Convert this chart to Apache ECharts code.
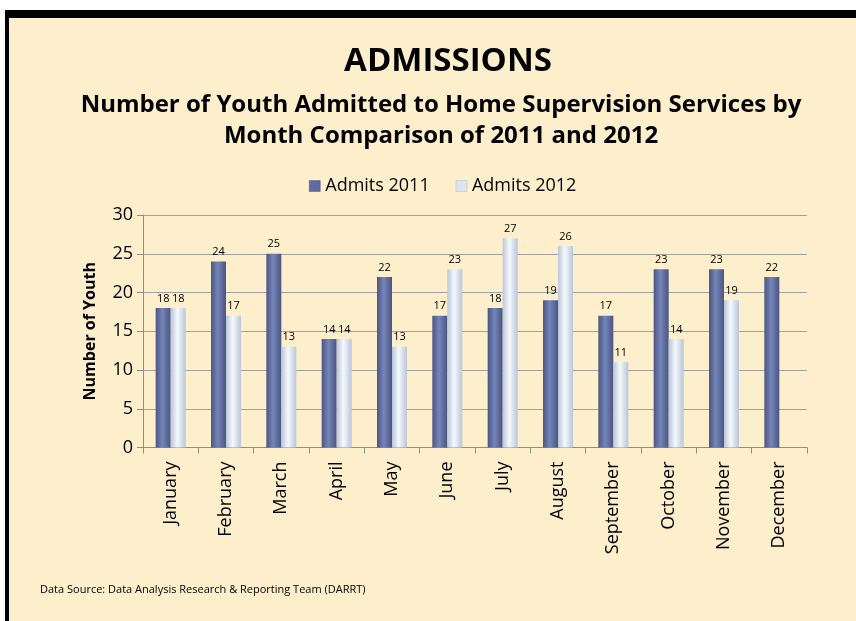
<!DOCTYPE html>
<html>
<head>
<meta charset="utf-8">
<script src="https://cdn.jsdelivr.net/npm/echarts@6/dist/echarts.min.js"></script>
<style>
  html, body { margin: 0; padding: 0; background: #ffffff; }
  #chart { width: 856px; height: 621px; }
</style>
</head>
<body>
<div id="chart"></div>
<script>
// Monthly admissions to Home Supervision Services
const months = ['January', 'February', 'March', 'April', 'May', 'June',
                'July', 'August', 'September', 'October', 'November', 'December'];
const admits2011 = [18, 24, 25, 14, 22, 17, 18, 19, 17, 23, 23, 22];
const admits2012 = [18, 17, 13, 14, 13, 23, 27, 26, 11, 14, 19, null];
const yTicks = [0, 5, 10, 15, 20, 25, 30];

const FONT = 'Open Sans';

function cylinder(edge, mid) {
  return new echarts.graphic.LinearGradient(0, 0, 1, 0, [
    { offset: 0, color: edge },
    { offset: 0.45, color: mid },
    { offset: 1, color: edge }
  ]);
}

function heading(text, x, y, size, weight) {
  return {
    type: 'text', silent: true,
    style: {
      text: text, x: x, y: y,
      textAlign: 'center', textVerticalAlign: 'middle',
      fontFamily: FONT, fontSize: size, fontWeight: weight, fill: '#000'
    }
  };
}

const chart = echarts.init(document.getElementById('chart'), null, { renderer: 'canvas' });

chart.setOption({
  backgroundColor: '#FEEFCC',
  animation: false,
  textStyle: { fontFamily: FONT },
  legend: {
    top: 172, left: 304,
    icon: 'rect',
    itemWidth: 11, itemHeight: 11, itemGap: 26,
    textStyle: { fontFamily: FONT, fontSize: 18, color: '#000' },
    data: [
      { name: 'Admits 2011', itemStyle: { color: '#5E6CA2', borderColor: '#4A5581', borderWidth: 0.5 } },
      { name: 'Admits 2012', itemStyle: { color: '#DDE5F1', borderColor: '#AEB9CC', borderWidth: 0.5 } }
    ]
  },
  grid: { left: 143, right: 49, top: 215, bottom: 173.5, containLabel: false },
  xAxis: {
    type: 'category',
    data: months,
    axisLine: { lineStyle: { color: '#8C8C8C', width: 1 } },
    axisTick: { show: true, length: 6, alignWithLabel: false, lineStyle: { color: '#8C8C8C' } },
    axisLabel: { rotate: 90, margin: 14, fontFamily: FONT, fontSize: 18, color: '#000', interval: 0 }
  },
  yAxis: {
    type: 'value',
    min: yTicks[0], max: yTicks[yTicks.length - 1], interval: 5,
    name: 'Number of Youth',
    nameLocation: 'middle', nameRotate: 90, nameGap: 45,
    nameTextStyle: { fontFamily: FONT, fontSize: 16, fontWeight: 'bold', color: '#000' },
    axisLine: { show: true, lineStyle: { color: '#8C8C8C' } },
    axisTick: { show: true, length: 6, inside: false, lineStyle: { color: '#8C8C8C' } },
    axisLabel: { fontFamily: FONT, fontSize: 18, color: '#000', margin: 10 },
    splitLine: { lineStyle: { color: '#A0A0A0', width: 1 } }
  },
  series: [
    {
      name: 'Admits 2011',
      type: 'bar',
      data: admits2011,
      barWidth: 15,
      barGap: '0%',
      itemStyle: { color: cylinder('#4A5581', '#7585B9') },
      label: { show: true, position: 'top', distance: 4, fontFamily: FONT, fontSize: 11, color: '#000' }
    },
    {
      name: 'Admits 2012',
      type: 'bar',
      data: admits2012,
      barWidth: 15,
      itemStyle: { color: cylinder('#B9C5D8', '#F5F9FE') },
      label: { show: true, position: 'top', distance: 4, fontFamily: FONT, fontSize: 11, color: '#000' }
    }
  ],
  graphic: [
    { type: 'rect', shape: { x: 0, y: 0, width: 856, height: 10 }, style: { fill: '#ffffff' }, silent: true },
    { type: 'rect', shape: { x: 0, y: 0, width: 5, height: 621 }, style: { fill: '#ffffff' }, silent: true },
    { type: 'rect', shape: { x: 5, y: 10, width: 851, height: 8 }, style: { fill: '#000000' }, silent: true },
    { type: 'rect', shape: { x: 5, y: 10, width: 4, height: 611 }, style: { fill: '#000000' }, silent: true },
    heading('ADMISSIONS', 448, 62, 33, 'bold'),
    heading('Number of Youth Admitted to Home Supervision Services by', 441, 105, 24, 'bold'),
    heading('Month Comparison of 2011 and 2012', 441, 136, 24, 'bold'),
    {
      type: 'text', silent: true,
      style: {
        text: 'Data Source: Data Analysis Research & Reporting Team (DARRT)',
        x: 40, y: 590, textAlign: 'left', textVerticalAlign: 'middle',
        fontFamily: FONT, fontSize: 11, fill: '#000'
      }
    }
  ]
});
</script>
</body>
</html>
